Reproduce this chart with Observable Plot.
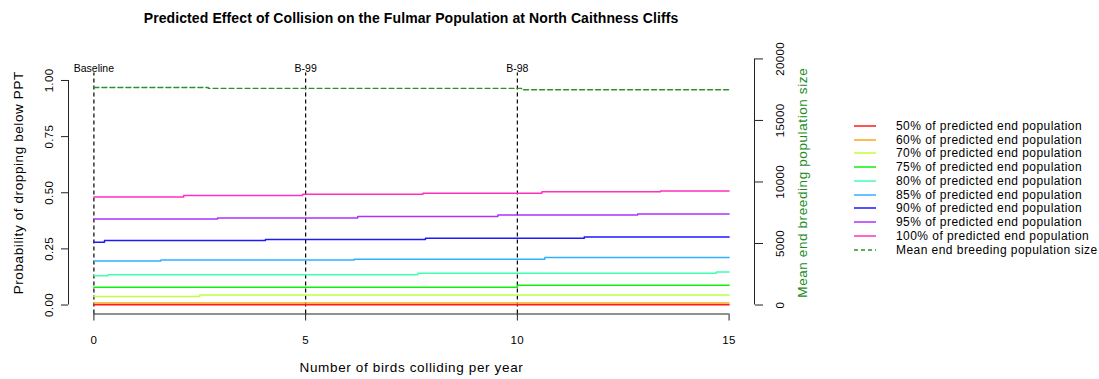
<!DOCTYPE html>
<html><head><meta charset="utf-8">
<script src="https://cdn.jsdelivr.net/npm/d3@7"></script>
<script src="https://cdn.jsdelivr.net/npm/@observablehq/plot@0.6"></script>
<style>
body{margin:0;background:#fff;font-family:"Liberation Sans",Arial,sans-serif;}
#wrap{position:relative;width:1099px;height:379px;}
#title{position:absolute;left:0;top:0;width:822px;height:36px;line-height:36px;text-align:center;font-weight:bold;font-size:14px;letter-spacing:0.1px;color:#000;}
#chart{position:absolute;left:0;top:36px;}
#legend{position:absolute;left:854px;top:119px;font-size:12px;letter-spacing:0.45px;color:#000;}
.row{height:13.78px;display:flex;align-items:center;white-space:nowrap;}
.row svg{margin-right:20px;}
</style></head>
<body><div id="wrap"><div id="title"></div><div id="chart"></div><div id="legend"></div></div>
<script>
const titleText = "Predicted Effect of Collision on the Fulmar Population at North Caithness Cliffs";
const xLabel = "Number of birds colliding per year";
const yLabel = "Probability of dropping below PPT";
const y2Label = "Mean end breeding population size";

const seriesNames = [
  "50% of predicted end population",
  "60% of predicted end population",
  "70% of predicted end population",
  "75% of predicted end population",
  "80% of predicted end population",
  "85% of predicted end population",
  "90% of predicted end population",
  "95% of predicted end population",
  "100% of predicted end population"
];
const seriesColors = ["#ff1a1a","#ffa520","#bfff3f","#10ee10","#40ffb0","#30b0ff","#1a1aff","#b030ff","#ff30c0"];

// change points (birds per year) and probabilities for each threshold
const stepX = [
  [0, 15],
  [0, 15],
  [0, 2.5, 15],
  [0, 10, 15],
  [0, 0.33, 7.65, 14.7, 15],
  [0, 1.58, 6.15, 10.65, 15],
  [0, 0.25, 4.05, 7.83, 11.58, 15],
  [0, 2.92, 6.23, 9.54, 12.84, 15],
  [0, 2.12, 4.93, 7.77, 10.58, 13.38, 15]
];
const stepProb = [
  [0.001, 0.001],
  [0.009, 0.009],
  [0.038, 0.045, 0.045],
  [0.0795, 0.088, 0.088],
  [0.130, 0.135, 0.141, 0.147, 0.147],
  [0.196, 0.200, 0.204, 0.212, 0.212],
  [0.280, 0.287, 0.292, 0.297, 0.303, 0.303],
  [0.383, 0.388, 0.394, 0.401, 0.405, 0.405],
  [0.481, 0.488, 0.493, 0.498, 0.504, 0.508, 0.508]
];

const popX = [0, 2.7, 10.1, 15];
const popValues = [17680, 17610, 17490, 17490];

const scenarioX = [0, 5, 10];
const scenarioLabels = ["Baseline", "B-99", "B-98"];

const xTicks = [0, 5, 10, 15];
const probTicks = [0, 0.25, 0.5, 0.75, 1];
const popTicks = [0, 5000, 10000, 15000, 20000];

// secondary axis: population mapped onto the probability scale
const popScale = 245.5 / 224 / 20000;
const popToY = p => p * popScale;

const rows = [];
stepX.forEach((xs, s) => xs.forEach((x, i) => rows.push({s: seriesNames[s], x, v: stepProb[s][i]})));
const popRows = popX.map((x, i) => ({x, p: popValues[i]}));

document.getElementById("title").textContent = titleText;

const chart = Plot.plot({
  width: 1099, height: 343,
  marginTop: 35, marginBottom: 65.5, marginLeft: 68, marginRight: 345,
  x: {domain: [-0.6, 15.6], axis: null},
  y: {domain: [-0.04, 1.04], axis: null},
  color: {domain: seriesNames, range: seriesColors},
  style: {fontFamily: "Liberation Sans, Arial, sans-serif", fontSize: "11px", color: "#000", background: "#fff"},
  marks: [
    Plot.ruleX(scenarioX, {y1: -0.04, y2: 1.033, stroke: "#000", strokeWidth: 1.2, strokeDasharray: "4,3"}),
    Plot.text(scenarioLabels, {x: (d, i) => scenarioX[i], y: 1.033, lineAnchor: "bottom", dy: -1, fontSize: 10.5}),
    Plot.line(rows, {x: "x", y: "v", z: "s", stroke: "s", curve: "step-after", strokeWidth: 1.5}),
    Plot.line(popRows, {x: "x", y: d => popToY(d.p), stroke: "#2f8f2f", strokeWidth: 1.4, strokeDasharray: "5,3", curve: "step-after"}),
    Plot.ruleY([-0.04], {x1: xTicks[0], x2: xTicks[xTicks.length - 1], stroke: "#222"}),
    Plot.axisX({ticks: xTicks, tickSize: 7, tickPadding: 15, fontSize: 11.5, label: null, stroke: "#222"}),
    Plot.ruleX([-0.6], {y1: probTicks[0], y2: probTicks[probTicks.length - 1], stroke: "#222"}),
    Plot.axisY({anchor: "left", ticks: probTicks, tickFormat: d3.format(".2f"), tickRotate: -90, tickSize: 7, tickPadding: 9, fontSize: 11.5, label: null, stroke: "#222"}),
    Plot.ruleX([15.6], {y1: popToY(popTicks[0]), y2: popToY(popTicks[popTicks.length - 1]), stroke: "#222"}),
    Plot.axisY({anchor: "right", ticks: popTicks.map(popToY), tickFormat: v => String(Math.round(v / popScale)), tickRotate: -90, lineAnchor: "top", tickSize: 8, tickPadding: 13, fontSize: 11.5, label: null, stroke: "#222"}),
    Plot.text([xLabel], {frameAnchor: "bottom", dy: 58, fontSize: 13.5}),
    Plot.text([yLabel], {frameAnchor: "left", textAnchor: "middle", dx: -50, dy: -10, rotate: -90, fontSize: 13.5}),
    Plot.text([y2Label], {frameAnchor: "right", textAnchor: "middle", dx: 48, dy: -10, rotate: -90, fill: "#228b22", fontSize: 13.5})
  ]
});
// widen glyph spacing to match the reference's text widths
const spacing = new Map([[xLabel, "0.65px"], [yLabel, "0.6px"], [y2Label, "0.6px"]]);
d3.select(chart).selectAll("text").each(function() {
  const t = this.textContent;
  if (spacing.has(t)) this.style.letterSpacing = spacing.get(t);
  else if (/^\d/.test(t)) this.style.letterSpacing = "0.35px";
});
document.getElementById("chart").appendChild(chart);

const legend = document.getElementById("legend");
seriesNames.concat([y2Label]).forEach((name, i) => {
  const row = document.createElement("div");
  row.className = "row";
  const isPop = i === seriesNames.length;
  const color = isPop ? "#2f8f2f" : seriesColors[i];
  row.innerHTML = `<svg width="22" height="4"><line x1="0" x2="22" y1="2" y2="2" stroke="${color}" stroke-width="1.5" ${isPop ? 'stroke-dasharray="4,3"' : ''}/></svg><span>${name}</span>`;
  legend.appendChild(row);
});
</script>
</body></html>
